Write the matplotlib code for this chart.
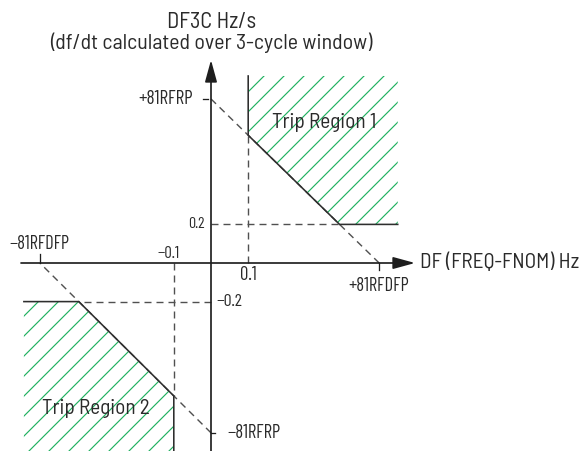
import matplotlib
matplotlib.use('Agg')
import matplotlib.pyplot as plt

# ---- values ----
df_pickup = [0.452, -0.46]        # +81RFDFP, -81RFDFP  (Hz)
rate_pickup = [0.85, -0.88]       # +81RFRP, -81RFRP    (Hz/s)
df_min = [0.1, -0.1]              # minimum DF for region 1 / 2
rate_min = [0.2, -0.2]            # minimum DF3C for region 1 / 2
df_tick_labels = ['+81RFDFP', '\u221281RFDFP', '0.1', '\u22120.1']
rate_tick_labels = ['+81RFRP', '\u221281RFRP', '0.2', '\u22120.2']
region_labels = ['Trip Region 1', 'Trip Region 2']
region_extent = [(0.502, 0.969), (-0.503, -0.974)]   # outer x / y edge of hatched areas
x_axis_label = 'DF (FREQ-FNOM) Hz'
title_lines = ['DF3C Hz/s', '(df/dt calculated over 3-cycle window)']

# ---- layout ----
DPI = 120
W, H = 583, 451
X0, Y0 = 211, 263        # origin in pixels
SX, SY = 372.0, 193.0    # pixels per unit

plt.rcParams['font.family'] = ['Barlow Semi Condensed', 'DejaVu Sans']
plt.rcParams['hatch.linewidth'] = 0.7
plt.rcParams['lines.scale_dashes'] = False
TICK_FONT = ['Barlow Condensed', 'DejaVu Sans']

fig = plt.figure(figsize=(W / DPI, H / DPI), dpi=DPI)
ax = fig.add_axes([0, 0, 1, 1])
ax.axis('off')
ax.set_xlim(-X0 / SX, (W - X0) / SX)
ax.set_ylim(-(H - Y0) / SY, Y0 / SY)
renderer = fig.canvas.get_renderer()


def pt(px):
    return px * 72.0 / DPI


def dx(px):
    return px / SX


def dy(px):
    return px / SY


def fit(t, width_px):
    t.set_fontsize(10)
    w = t.get_window_extent(renderer).width
    t.set_fontsize(10 * width_px / w)
    return t


TXT = '#2a2a2a'
AXC = '#1e1e1e'
DASH = '#505050'
SOLID = '#2e2e2e'
GREEN = '#1fb060'


def rate_line(x, i):
    return rate_pickup[i] * (1 - x / df_pickup[i])


def df_at_rate(y, i):
    return df_pickup[i] * (1 - y / rate_pickup[i])


ylo = ax.get_ylim()[0]
for i in range(2):
    xm, ym = df_min[i], rate_min[i]
    xe, ye = region_extent[i]
    xc = df_at_rate(ym, i)
    yc = rate_line(xm, i)
    ax.fill([xm, xm, xc, xe, xe], [ye, yc, ym, ym, ye], facecolor='none', edgecolor=GREEN,
            hatch='//', linewidth=0, zorder=1)
    dash_kw = dict(color=DASH, lw=pt(1.4), dashes=(pt(7), pt(5)), zorder=2)
    ax.plot([0, df_pickup[i]], [rate_pickup[i], 0], **dash_kw)
    ax.plot([xm, xm], [0, yc], **dash_kw)
    ax.plot([0, xc], [ym, ym], **dash_kw)
    ax.plot([xm, xm, xc, xe], [ye, yc, ym, ym], color=SOLID, lw=pt(1.6), zorder=3,
            solid_joinstyle='miter')

arrow_kw = dict(arrowstyle='-|>,head_length=0.62,head_width=0.17', color=AXC,
                lw=pt(1.7), shrinkA=0, shrinkB=0, mutation_scale=18)
ax.annotate('', xy=((415 - X0) / SX, 0), xytext=((21 - X0) / SX, 0), arrowprops=arrow_kw, zorder=4)
ax.annotate('', xy=(0, (Y0 - 60) / SY), xytext=(0, ylo), arrowprops=arrow_kw, zorder=4)

tick_kw = dict(color=AXC, lw=pt(1.3), zorder=4)
ax.plot([-dx(8), -dx(3)], [rate_pickup[0]] * 2, **tick_kw)
ax.plot([0, dx(4)], [rate_pickup[1]] * 2, **tick_kw)
ax.plot([df_pickup[0]] * 2, [0, -dy(7)], **tick_kw)
ax.plot([df_pickup[1]] * 2, [0, dy(9)], **tick_kw)

kw = dict(color=TXT, va='center')
tk = dict(color=TXT, va='center', family=TICK_FONT)
fit(ax.text(-dx(18), rate_pickup[0], rate_tick_labels[0], ha='right', **tk), 54)
fit(ax.text(dx(16), rate_pickup[1], rate_tick_labels[1], ha='left', **tk), 53)
fit(ax.text(-dx(6), rate_min[0], rate_tick_labels[2], ha='right', **tk), 16.5)
fit(ax.text(dx(5), rate_min[1], rate_tick_labels[3], ha='left', **tk), 26)
fit(ax.text(df_pickup[0], -dy(23), df_tick_labels[0], ha='center', **tk), 60)
fit(ax.text(df_pickup[1], dy(19), df_tick_labels[1], ha='center', **tk), 60)
fit(ax.text(df_min[0], -dy(12), df_tick_labels[2], ha='center', **tk), 16.5)
fit(ax.text(df_min[1] - dx(5), dy(9), df_tick_labels[3], ha='center', **tk), 22)

fit(ax.text((420 - X0) / SX, dy(1), x_axis_label, ha='left', **kw), 160)
fit(fig.text(212 / W, 1 - 22 / H, title_lines[0], ha='center', **kw), 89)
fit(fig.text(211 / W, 1 - 43 / H, title_lines[1], ha='center', **kw), 325)

fit(ax.text((324 - X0) / SX, (Y0 - 123) / SY, region_labels[0], ha='center', zorder=5, **kw), 105)
fit(ax.text((96 - X0) / SX, (Y0 - 408) / SY, region_labels[1], ha='center', zorder=5, **kw), 108)

fig.savefig('out.png', dpi=DPI, facecolor='white')
